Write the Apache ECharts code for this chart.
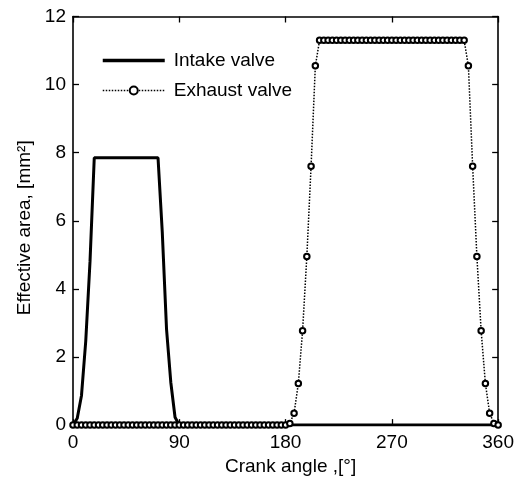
<!DOCTYPE html>
<html>
<head>
<meta charset="utf-8">
<script src="https://cdn.jsdelivr.net/npm/echarts@6/dist/echarts.min.js"></script>
<style>
html,body{margin:0;padding:0;background:#fff;}
#c{width:517px;height:481px;}
</style>
</head>
<body>
<div id="c"></div>
<script>
var angles = [
0,3.6,7.2,10.8,14.4,18,21.6,25.2,28.8,32.4,
36,39.6,43.2,46.8,50.4,54,57.6,61.2,64.8,68.4,
72,75.6,79.2,82.8,86.4,90,93.6,97.2,100.8,104.4,
108,111.6,115.2,118.8,122.4,126,129.6,133.2,136.8,140.4,
144,147.6,151.2,154.8,158.4,162,165.6,169.2,172.8,176.4,
180,183.6,187.2,190.8,194.4,198,201.6,205.2,208.8,212.4,
216,219.6,223.2,226.8,230.4,234,237.6,241.2,244.8,248.4,
252,255.6,259.2,262.8,266.4,270,273.6,277.2,280.8,284.4,
288,291.6,295.2,298.8,302.4,306,309.6,313.2,316.8,320.4,
324,327.6,331.2,334.8,338.4,342,345.6,349.2,352.8,356.4,
360];

var intake = [
0,0.2,0.87,2.47,4.8,7.85,7.85,7.85,7.85,7.85,
7.85,7.85,7.85,7.85,7.85,7.85,7.85,7.85,7.85,7.85,
7.85,5.66,2.82,1.26,0.23,0,0,0,0,0,
0,0,0,0,0,0,0,0,0,0,
0,0,0,0,0,0,0,0,0,0,
0,0,0,0,0,0,0,0,0,0,
0,0,0,0,0,0,0,0,0,0,
0,0,0,0,0,0,0,0,0,0,
0,0,0,0,0,0,0,0,0,0,
0,0,0,0,0,0,0,0,0,0,
0];

var exhaust = [
0,0,0,0,0,0,0,0,0,0,
0,0,0,0,0,0,0,0,0,0,
0,0,0,0,0,0,0,0,0,0,
0,0,0,0,0,0,0,0,0,0,
0,0,0,0,0,0,0,0,0,0,
0,0.05,0.35,1.22,2.77,4.95,7.6,10.55,11.3,11.3,
11.3,11.3,11.3,11.3,11.3,11.3,11.3,11.3,11.3,11.3,
11.3,11.3,11.3,11.3,11.3,11.3,11.3,11.3,11.3,11.3,
11.3,11.3,11.3,11.3,11.3,11.3,11.3,11.3,11.3,11.3,
11.3,11.3,11.3,10.55,7.6,4.95,2.77,1.22,0.35,0.05,
0];

var seriesNames = ['Intake valve', 'Exhaust valve'];
var xTitle = 'Crank angle ,[°]';
var yTitle = 'Effective area, [mm²]';

function pairs(xs, ys){ return xs.map(function(x,i){ return [x, ys[i]]; }); }

var font = 'Liberation Sans, Arial, Helvetica, sans-serif';

function mkAxisLine(){ return {show:true, onZero:false, lineStyle:{color:'#000', width:1.6}}; }
function mkTick(){ return {show:true, inside:true, length:6, lineStyle:{color:'#000', width:1.3}}; }

var chart = echarts.init(document.getElementById('c'));
try {
chart.setOption({
  animation:false,
  backgroundColor:'#fff',
  grid:{left:73, right:18, top:16.5, bottom:55, containLabel:false},
  legend:{
    show:true, left:96, top:46, orient:'vertical', itemWidth:62, itemHeight:10, itemGap:11,
    textStyle:{fontFamily:font, fontSize:19, color:'#000', padding:[0,0,0,4]},
    data:[
      {name:seriesNames[0], itemStyle:{opacity:0}, lineStyle:{width:3.5, color:'#000'}},
      {name:seriesNames[1], lineStyle:{width:1.5, type:'dotted', color:'#000'}}
    ]
  },
  xAxis:[{
    type:'value', min:0, max:360, interval:90, position:'bottom',
    name:xTitle, nameLocation:'middle', nameGap:30,
    nameTextStyle:{fontFamily:font, fontSize:19, color:'#000', padding:[0,0,0,10]},
    axisLine:mkAxisLine(), axisTick:mkTick(), splitLine:{show:false},
    axisLabel:{fontFamily:font, fontSize:19, color:'#000', margin:8}
  },{
    type:'value', min:0, max:360, interval:90, position:'top',
    axisLine:mkAxisLine(), axisTick:mkTick(), splitLine:{show:false}, axisLabel:{show:false}
  }],
  yAxis:[{
    type:'value', min:0, max:12, interval:2, position:'left',
    name:yTitle, nameLocation:'middle', nameGap:38,
    nameTextStyle:{fontFamily:font, fontSize:19, color:'#000', padding:[0,14,0,0]},
    axisLine:mkAxisLine(), axisTick:mkTick(), splitLine:{show:false},
    axisLabel:{fontFamily:font, fontSize:19, color:'#000', margin:7}
  },{
    type:'value', min:0, max:12, interval:2, position:'right',
    axisLine:mkAxisLine(), axisTick:mkTick(), splitLine:{show:false}, axisLabel:{show:false}
  }],
  series:[{
    name:seriesNames[0], type:'line', xAxisIndex:0, yAxisIndex:0,
    data:pairs(angles, intake), symbol:'none',
    lineStyle:{color:'#000', width:3}, itemStyle:{color:'#000'}
  },{
    name:seriesNames[1], type:'line', xAxisIndex:0, yAxisIndex:0,
    data:pairs(angles, exhaust), symbol:'emptyCircle', symbolSize:5.5, showSymbol:true,
    showAllSymbol:true,
    lineStyle:{color:'#000', width:1.5, type:'dotted'},
    itemStyle:{color:'#000', borderColor:'#000', borderWidth:1.5}
  }]
});
} catch(e) { document.body.insertAdjacentHTML('beforeend','<pre>'+e.stack+'</pre>'); }
</script>
</body>
</html>
